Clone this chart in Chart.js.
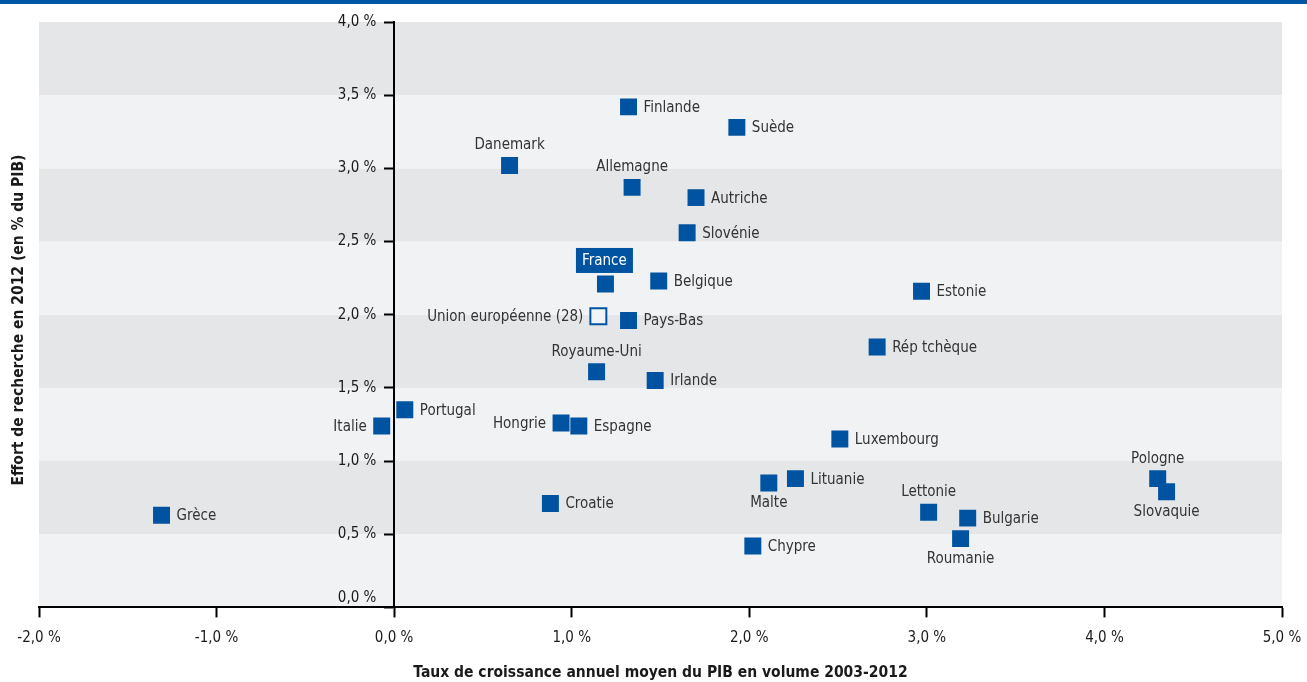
<!DOCTYPE html>
<html><head><meta charset="utf-8">
<script src="https://cdn.jsdelivr.net/npm/chart.js@4"></script>
<style>html,body{margin:0;padding:0;background:#fff;}canvas{display:block}</style>
</head><body>
<canvas id="c" width="1307" height="682"></canvas>
<script>
// ---- data ----
const countries = ['Finlande','Suède','Danemark','Allemagne','Autriche','Slovénie','France','Belgique','Pays-Bas','Royaume-Uni','Irlande','Estonie','Rép tchèque','Portugal','Italie','Hongrie','Espagne','Croatie','Grèce','Luxembourg','Malte','Lituanie','Chypre','Lettonie','Bulgarie','Roumanie','Pologne','Slovaquie'];
const growth = [1.32,1.93,0.65,1.34,1.70,1.65,1.19,1.49,1.32,1.14,1.47,2.97,2.72,0.06,-0.07,0.94,1.04,0.88,-1.31,2.51,2.11,2.26,2.02,3.01,3.23,3.19,4.30,4.35];
const rnd = [3.42,3.28,3.02,2.87,2.80,2.56,2.21,2.23,1.96,1.61,1.55,2.16,1.78,1.35,1.24,1.26,1.24,0.71,0.63,1.15,0.85,0.88,0.42,0.65,0.61,0.47,0.88,0.79];
const euLabels = ['Union européenne (28)'];
const euGrowth = [1.15];
const euRnd = [1.99];
const xTicks = [-2,-1,0,1,2,3,4,5];
const yTicks = [0,0.5,1,1.5,2,2.5,3,3.5,4];
const xTitle = 'Taux de croissance annuel moyen du PIB en volume 2003-2012';
const yTitle = 'Effort de recherche en 2012 (en % du PIB)';

// ---- label placement (style) ----
const placement = {'Danemark':'top','Allemagne':'top','Royaume-Uni':'top','Lettonie':'top','Pologne':'top','France':'box',
  'Malte':'bottom','Roumanie':'bottom','Slovaquie':'bottom','Italie':'left','Hongrie':'left','Union européenne (28)':'left'};

const FONT = '"Liberation Sans Narrow", "DejaVu Sans Condensed", "Arial Narrow", sans-serif';
const BLUE = '#0053a1';
const fmt = v => v.toFixed(1).replace('.', ',') + ' %';

const bands = {
  id: 'bands',
  beforeDraw(chart) {
    const {ctx, chartArea: a, scales: {y}} = chart;
    ctx.save();
    ctx.fillStyle = '#0055a4';
    ctx.fillRect(0, 0, chart.width, 4);
    for (let i = 0; i < yTicks.length - 1; i++) {
      const t = y.getPixelForValue(yTicks[i + 1]), b = y.getPixelForValue(yTicks[i]);
      ctx.fillStyle = (i % 2 === 0) ? '#f1f2f4' : '#e5e6e8';
      ctx.fillRect(a.left, t, a.right - a.left, b - t);
    }
    ctx.restore();
  },
  afterDraw(chart) {
    const {ctx} = chart;
    ctx.save();
    ctx.translate(19, 320);
    ctx.rotate(-Math.PI / 2);
    ctx.font = 'bold 15.5px ' + FONT;
    ctx.fillStyle = '#1a1a1a';
    ctx.textAlign = 'center';
    ctx.textBaseline = 'middle';
    ctx.fillText(yTitle, 0, 0);
    ctx.restore();
  }
};

const labels = {
  id: 'pointLabels',
  afterDatasetsDraw(chart) {
    const {ctx} = chart;
    ctx.save();
    ctx.font = '15px ' + FONT;
    ctx.textBaseline = 'middle';
    chart.data.datasets.forEach((ds, di) => {
      const meta = chart.getDatasetMeta(di);
      meta.data.forEach((pt, i) => {
        const name = ds.names[i];
        const p = placement[name] || 'right';
        const x = pt.x, y = pt.y;
        ctx.fillStyle = '#333';
        if (p === 'right') { ctx.textAlign = 'left'; ctx.fillText(name, x + 15, y + 1); }
        else if (p === 'left') { ctx.textAlign = 'right'; ctx.fillText(name, x - 15, y + 1); }
        else if (p === 'top') { ctx.textAlign = 'center'; ctx.fillText(name, x, y - 20); }
        else if (p === 'bottom') { ctx.textAlign = 'center'; ctx.fillText(name, x, y + 20); }
        else if (p === 'box') {
          ctx.textAlign = 'center';
          const w = 57;
          ctx.fillStyle = BLUE;
          ctx.fillRect(x - 1 - w / 2, y - 36, w, 25);
          ctx.fillStyle = '#fff';
          ctx.fillText(name, x - 1, y - 23);
        }
      });
    });
    ctx.restore();
  }
};

const noPad = s => { s.paddingLeft = 0; s.paddingRight = 0; };

new Chart(document.getElementById('c'), {
  type: 'scatter',
  data: {
    datasets: [
      { names: countries, data: growth.map((g, i) => ({x: g, y: rnd[i]})),
        pointStyle: 'rect', radius: 12, backgroundColor: BLUE, borderWidth: 0 },
      { names: euLabels, data: euGrowth.map((g, i) => ({x: g, y: euRnd[i]})),
        pointStyle: 'rect', radius: 11.3, backgroundColor: '#f2f3f5', borderColor: BLUE, borderWidth: 2 }
    ]
  },
  options: {
    responsive: false, animation: false, events: [],
    layout: { padding: { left: 39, right: 25, top: 22, bottom: 0 } },
    plugins: { legend: { display: false }, tooltip: { enabled: false } },
    scales: {
      x: {
        type: 'linear', min: xTicks[0], max: xTicks[xTicks.length - 1], position: 'bottom',
        afterBuildTicks: s => { s.ticks = xTicks.map(v => ({value: v})); },
        afterFit: noPad,
        ticks: { callback: fmt, padding: 12, color: '#1a1a1a', font: { family: FONT, size: 15 }, maxRotation: 0, autoSkip: false },
        grid: { drawOnChartArea: false, drawTicks: true, tickLength: 10, tickWidth: 2, tickColor: '#000' },
        border: { color: '#000', width: 2 },
        title: { display: true, text: xTitle, color: '#1a1a1a', font: { family: FONT, size: 15.5, weight: 'bold' }, padding: { top: 4, bottom: 0 } }
      },
      y: {
        type: 'linear', min: yTicks[0], max: yTicks[yTicks.length - 1], position: { x: 0 },
        afterBuildTicks: s => { s.ticks = yTicks.map(v => ({value: v})); },
        ticks: { display: false },
        grid: { drawOnChartArea: false, drawTicks: true, tickLength: 9, tickWidth: 2, tickColor: '#000' },
        border: { color: '#000', width: 2 }
      },
      yLabels: {
        type: 'linear', axis: 'y', min: yTicks[0], max: yTicks[yTicks.length - 1], position: { x: -0.1 },
        afterBuildTicks: s => { s.ticks = yTicks.map(v => ({value: v})); },
        ticks: { callback: v => v === 0 ? [fmt(v), ''] : fmt(v), color: '#1a1a1a', font: { family: FONT, size: 15 }, autoSkip: false },
        grid: { display: false, drawTicks: false },
        border: { display: false }
      }
    }
  },
  plugins: [bands, labels]
});
</script>
</body></html>
